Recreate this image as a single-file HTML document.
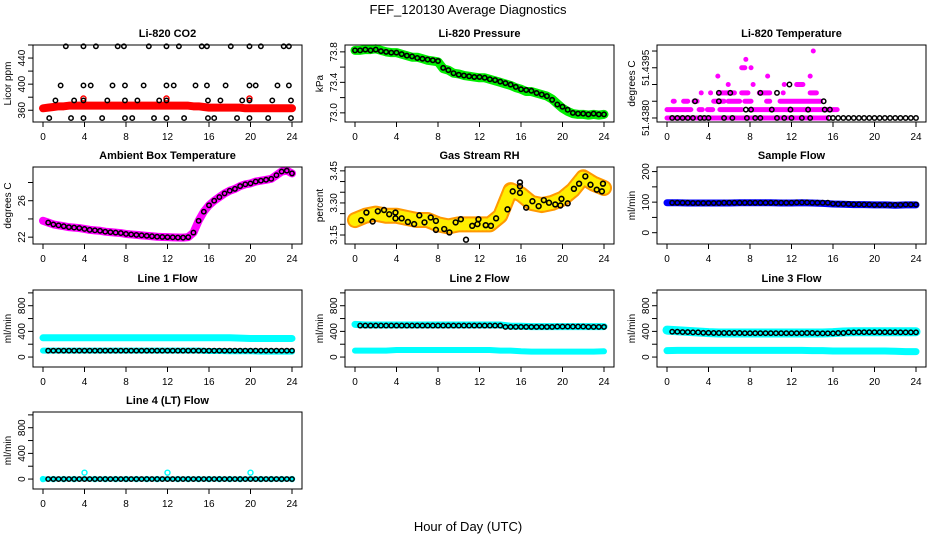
<!DOCTYPE html>
<html><head><meta charset="utf-8"><style>
html,body{margin:0;padding:0;background:#fff;}
svg{display:block;font-family:"Liberation Sans",Arial,sans-serif;}
</style></head><body>
<svg id="fig" width="936" height="540" viewBox="0 0 936 540" xmlns="http://www.w3.org/2000/svg">
<text x="468" y="14" text-anchor="middle" font-size="13">FEF_120130  Average Diagnostics</text>
<text x="468" y="531" text-anchor="middle" font-size="13">Hour of Day (UTC)</text>
</svg>
<script>
// ---------- data ----------
const xTicks = [0,4,8,12,16,20,24];
const halfHours = [0,0.5,1,1.5,2,2.5,3,3.5,4,4.5,5,5.5,6,6.5,7,7.5,8,8.5,9,9.5,10,10.5,11,11.5,12,12.5,13,13.5,14,14.5,15,15.5,16,16.5,17,17.5,18,18.5,19,19.5,20,20.5,21,21.5,22,22.5,23,23.5,24];
const hours = [0,1,2,3,4,5,6,7,8,9,10,11,12,13,14,15,16,17,18,19,20,21,22,23,24];

// CO2
const co2Red = [363,364,365,366,366,367,367,367,367,367,367,367,367,367,367,367,367,367,367,367,367,367,367,367,367,367,367,367,367,366,366,365,364,364,364,364,364,364,364,363,363,363,363,363,363,363,363,363,363];
const co2RedOutHours = [3.9,11.9,19.9];
const co2RedOutVals = [378,378,378];
const co2BlackHours = [2.2,3.9,5.1,7.2,7.8,10.2,11.9,13.1,15.3,15.8,18.1,19.9,21.0,23.2,23.7,
 1.7,3.9,4.6,6.7,7.9,9.7,11.9,12.6,14.7,15.8,17.6,19.9,20.5,22.6,23.7,
 1.2,3.0,3.9,6.2,7.9,9.1,11.2,11.9,15.9,17.1,19.2,19.9,22.1,23.9,
 0.6,2.7,3.9,5.7,7.9,8.6,10.7,11.9,13.6,15.9,16.5,18.7,19.9,21.7,23.9];
const co2BlackVals = [458,458,458,458,458,458,458,458,458,458,458,458,458,458,458,
 398,398,398,398,398,398,398,398,398,398,398,398,398,398,398,
 375,375,375,375,375,375,375,375,375,375,375,375,375,375,
 348,348,348,348,348,348,348,348,348,348,348,348,348,348,348];

// Pressure
const presGreen = [73.82,73.82,73.83,73.83,73.84,73.82,73.80,73.79,73.79,73.77,73.75,73.73,73.73,73.71,73.69,73.68,73.67,73.58,73.56,73.52,73.51,73.49,73.48,73.47,73.46,73.46,73.44,73.42,73.40,73.38,73.36,73.33,73.31,73.28,73.28,73.26,73.24,73.22,73.18,73.12,73.06,73.02,72.99,72.98,72.98,72.97,72.98,72.97,72.98];
const presBlack = [73.82,73.82,73.83,73.82,73.83,73.81,73.80,73.79,73.79,73.77,73.75,73.74,73.72,73.71,73.70,73.69,73.68,73.59,73.56,73.52,73.50,73.49,73.48,73.47,73.47,73.46,73.44,73.43,73.41,73.39,73.37,73.34,73.31,73.30,73.29,73.26,73.24,73.22,73.17,73.11,73.08,73.04,73.00,72.99,72.99,72.98,72.99,72.98,72.98];

// Li-820 temperature (magenta bands: start, end, value)
const tSegStart = [0,0,3.1,3.9,5.1,8.0,0.6,1.6,2.6,4.5,5.9,7.5,9.6,10.9,3.3,4.2,5.1,7.2,8.9,11.2,13.8,5.9,8.3,11.3,12.5,4.9,9.7,13.8,7.2,8.1,7.6,14.1];
const tSegEnd   = [15.4,2.3,3.4,4.4,7.2,16.4,0.7,2.0,2.9,5.5,7.0,8.1,9.9,14.8,3.3,4.2,6.5,7.8,9.9,11.2,14.4,5.9,8.3,11.3,13.1,4.9,9.7,13.8,7.5,8.1,7.6,14.1];
const tSegVal   = [51.4380,51.43825,51.43825,51.43825,51.43825,51.43825,51.4385,51.4385,51.4385,51.4385,51.4385,51.4385,51.4385,51.4385,51.43875,51.43875,51.43875,51.43875,51.43875,51.43875,51.43875,51.4390,51.4390,51.4390,51.4390,51.43925,51.43925,51.43925,51.4395,51.4395,51.43975,51.4400];
const tBlackHours = [0.5,1,1.5,2,2.5,3.2,3.6,4,5.5,6.3,7.7,8.5,9,10.6,11.3,12,13,13.8,15.6,16,16.5,17,17.5,18,18.5,19,19.5,20,20.5,21,21.5,22,22.5,23,23.5,24,7.6,8.1,10.1,11.9,13.6,15.2,15.7,2.7,5.0,15.1,5.0,6.1,9.0,10.6,11.8];
const tBlackVals = [51.4380,51.4380,51.4380,51.4380,51.4380,51.4380,51.4380,51.4380,51.4380,51.4380,51.4380,51.4380,51.4380,51.4380,51.4380,51.4380,51.4380,51.4380,51.4380,51.4380,51.4380,51.4380,51.4380,51.4380,51.4380,51.4380,51.4380,51.4380,51.4380,51.4380,51.4380,51.4380,51.4380,51.4380,51.4380,51.4380,51.43825,51.43825,51.43825,51.43825,51.43825,51.43825,51.43825,51.4385,51.4385,51.4385,51.43875,51.43875,51.43875,51.43875,51.4390];

// Ambient box temperature
const ambVals = [23.8,23.6,23.4,23.3,23.2,23.1,23.05,23.0,22.9,22.8,22.75,22.7,22.6,22.55,22.5,22.45,22.35,22.3,22.25,22.2,22.15,22.1,22.05,22.02,22.0,21.98,21.96,21.95,22.0,22.5,23.8,24.8,25.5,26.0,26.4,26.8,27.1,27.3,27.6,27.8,27.9,28.1,28.2,28.3,28.4,28.8,29.2,29.3,29.0];

// Gas stream RH
const rhBand = [3.22,3.24,3.25,3.24,3.24,3.23,3.22,3.22,3.20,3.19,3.20,3.20,3.20,3.20,3.24,3.36,3.34,3.30,3.29,3.30,3.32,3.36,3.42,3.39,3.37];
const rhBlackHours = [0.6,1.1,1.7,2.2,2.8,3.3,3.9,3.9,4.5,5.1,5.7,6.2,6.7,7.3,7.8,7.8,8.6,9.1,9.7,10.2,10.7,11.3,11.8,11.9,12.6,13.1,13.6,14.7,15.2,15.9,15.9,15.9,16.5,17.1,17.7,18.2,18.7,19.3,19.8,19.9,20.5,21.1,21.6,22.2,22.7,23.3,23.8,23.9];
const rhBlackVals = [3.219,3.255,3.213,3.261,3.267,3.247,3.255,3.228,3.228,3.211,3.201,3.242,3.209,3.232,3.216,3.174,3.178,3.162,3.209,3.224,3.128,3.193,3.201,3.224,3.196,3.193,3.228,3.270,3.354,3.347,3.378,3.396,3.278,3.308,3.285,3.313,3.301,3.293,3.288,3.319,3.298,3.366,3.390,3.424,3.385,3.362,3.354,3.390];

// Sample flow
const sampleBlue = [98,98,97,97,97,97,97,98,98,98,98,97,97,98,97,96,94,93,92,92,91,91,90,91,91];
const sampleBlack = [98,98,98,98,98,97,97,97,97,97,97,98,98,98,98,98,98,98,98,98,98,98,98,98,98,99,99,99,98,98,98,98,95,94,94,94,93,93,92,92,91,91,91,91,91,91,92,92,92];

// Line flows (cyan upper/lower, black)
const l1CyanHi = [300,300,300,300,300,300,300,300,300,300,300,300,300,300,300,300,300,300,300,295,290,290,290,290,290];
const l1CyanLo = [100,100,100,100,100,100,100,100,100,100,100,100,100,100,100,100,95,95,90,90,90,85,85,85,85];
const l1Black = [100,100,100,100,100,100,100,100,100,100,100,100,100,100,100,100,100,100,100,100,100,100,100,100,100];
const l2CyanHi = [510,500,500,500,500,500,500,500,500,500,500,500,500,500,500,480,480,475,475,475,475,475,475,475,475];
const l2CyanLo = [100,100,100,100,110,110,110,110,110,110,110,110,110,110,100,100,90,85,85,85,85,85,85,85,90];
const l2Black = [490,490,490,490,490,490,490,490,490,490,490,490,490,490,490,470,470,470,470,470,475,475,475,470,470];
const l3CyanHi = [420,410,400,390,380,375,375,375,375,375,375,375,375,375,375,375,380,390,395,395,395,395,395,395,395];
const l3CyanLo = [100,105,105,105,105,105,105,105,105,105,105,105,105,105,100,100,95,95,95,95,95,95,90,85,85];
const l3Black = [395,395,390,385,378,375,375,375,372,372,372,372,372,372,375,370,370,375,385,388,388,388,388,385,385];
const l4Cyan = [0,0,0,0,100,0,0,0,0,0,0,0,100,0,0,0,0,0,0,0,100,0,0,0,0];
const l4Black = [0,0,0,0,0,0,0,0,0,0,0,0,0,0,0,0,0,0,0,0,0,0,0,0,0];

// ---------- drawing ----------
const NS = "http://www.w3.org/2000/svg";
const svg = document.getElementById("fig");
const colLeft = [33,345,657], rowTop = [45,167,290,412], PW = 269, PH = 77;
function mk(tag, attrs, parent){ const e=document.createElementNS(NS,tag); for(const k in attrs) e.setAttribute(k,attrs[k]); (parent||svg).appendChild(e); return e; }

function panel(name, ci, ri, title, ytitle, ymin, ymax, yTicks, yLabels){
  const L=colLeft[ci], T=rowTop[ri];
  const g=mk("g",{});
  
  
  const xs=h=>L+10+h*(PW-20)/24;
  const ys=v=>T+PH*(ymax-v)/(ymax-ymin);
  const t=mk("text",{x:L+PW/2,y:T-8,"text-anchor":"middle","font-size":"11","font-weight":"bold"},g);
  t.textContent=title;
  
  
  const yt=mk("text",{x:0,y:0,"text-anchor":"middle","font-size":"10",transform:`translate(${L-22},${T+PH/2}) rotate(-90)`},g);
  yt.textContent=ytitle;
  
  
  const plot=mk("g",{},g);
  
  
  xTicks.forEach(h=>{
    mk("line",{x1:xs(h),x2:xs(h),y1:T+PH,y2:T+PH+5,stroke:"#000","stroke-width":1},g);
    const tx=mk("text",{x:xs(h),y:T+PH+18,"text-anchor":"middle","font-size":"10"},g);
    tx.textContent=String(h);
    
    
  });
  yTicks.forEach((v,i)=>{
    mk("line",{x1:L-5,x2:L,y1:ys(v),y2:ys(v),stroke:"#000","stroke-width":1},g);
    if(yLabels[i]){
      const ty=mk("text",{x:0,y:0,"text-anchor":"middle","font-size":"10",transform:`translate(${L-8},${ys(v)}) rotate(-90)`},g);
      ty.textContent=yLabels[i];
      
      
    }
  });
  const box=mk("rect",{x:L,y:T,width:PW,height:PH,fill:"none",stroke:"#000","stroke-width":1},g);
  
  
  return {xs,ys,plot};
}
function band(p, hs, vs, color, w, name, dash){
  const pts=hs.map((h,i)=>p.xs(h)+","+p.ys(vs[i])).join(" ");
  const pl=mk("polyline",{points:pts,fill:"none",stroke:color,"stroke-width":w,"stroke-linecap":"round","stroke-linejoin":"round"},p.plot);
  if(dash) pl.setAttribute("stroke-dasharray",dash);
  
  
}
function circles(p, hs, vs, color, r, sw, name){
  hs.forEach((h,i)=>{
    const c=mk("circle",{cx:p.xs(h),cy:p.ys(vs[i]),r:r,fill:"none",stroke:color,"stroke-width":sw},p.plot);
    
    
  });
}

// 1 CO2
let p=panel("co2",0,0,"Li-820 CO2","Licor ppm",342,460,[360,380,400,420,440,460],["360","","400","","440",""]);
band(p,halfHours,co2Red,"#ff0000",8,"co2-red-band");
circles(p,co2RedOutHours,co2RedOutVals,"#ff0000",2.5,1.5,"co2-red-point");
circles(p,co2BlackHours,co2BlackVals,"#000",2.2,1.5,"co2-black-point");

// 2 Pressure
p=panel("pressure",1,0,"Li-820 Pressure","kPa",72.88,73.89,[73.0,73.2,73.4,73.6,73.8],["73.0","","73.4","","73.8"]);
band(p,halfHours,presGreen,"#00ee00",9,"pressure-green-band");
circles(p,halfHours,presBlack,"#000",2.2,1.6,"pressure-black-point");

// 3 Li-820 temperature
p=panel("li820-temp",2,0,"Li-820 Temperature","degrees C",51.43788,51.44018,[51.4380,51.4385,51.4390,51.4395,51.4400],["51.4380","","","51.4395",""]);
tSegStart.forEach((s,i)=>{
  const l=mk("line",{x1:p.xs(s),x2:p.xs(tSegEnd[i]),y1:p.ys(tSegVal[i]),y2:p.ys(tSegVal[i]),stroke:"#ff00ff","stroke-width":5,"stroke-linecap":"round"},p.plot);
  
  
});
circles(p,tBlackHours,tBlackVals,"#000",2.2,1.5,"temp-black-point");

// 4 Ambient
p=panel("ambient",0,1,"Ambient Box Temperature","degrees C",21.25,29.7,[22,24,26,28],["22","","26",""]);
band(p,halfHours,ambVals,"#ff00ff",8,"ambient-magenta-band");
circles(p,halfHours.slice(1),ambVals.slice(1),"#000",2.2,1.5,"ambient-black-point");

// 5 Gas stream RH
p=panel("gas-rh",1,1,"Gas Stream RH","percent",3.108,3.468,[3.15,3.20,3.25,3.30,3.35,3.40,3.45],["3.15","","","3.30","","","3.45"]);
band(p,hours,rhBand,"#ff9900",16,"rh-orange-band");
band(p,hours,rhBand,"#ffee00",12,"rh-yellow-texture","1.5 2.5");
circles(p,rhBlackHours,rhBlackVals,"#000",2.4,1.6,"rh-black-point");

// 6 Sample flow
p=panel("sample-flow",2,1,"Sample Flow","ml/min",-37,215,[0,50,100,150,200],["0","","100","","200"]);
band(p,hours,sampleBlue,"#0000ff",7,"sample-blue-band");
circles(p,halfHours.slice(1),sampleBlack.slice(1),"#000",2.2,1.5,"sample-black-point");

const flowTicks=[0,200,400,600,800,1000], flowLabels=["0","","400","","800",""];
// 7 Line 1
p=panel("line1",0,2,"Line 1 Flow","ml/min",-155,1045,flowTicks,flowLabels);
band(p,hours,l1CyanHi,"#00ffff",7,"line1-cyan-upper");
band(p,hours,l1CyanLo,"#00ffff",6,"line1-cyan-lower");
circles(p,halfHours.slice(1),halfHours.slice(1).map(h=>l1Black[Math.round(h)]),"#000",2.2,1.5,"line1-black-point");

// 8 Line 2
p=panel("line2",1,2,"Line 2 Flow","ml/min",-155,1045,flowTicks,flowLabels);
band(p,hours,l2CyanHi,"#00ffff",7,"line2-cyan-upper");
band(p,hours,l2CyanLo,"#00ffff",6,"line2-cyan-lower");
circles(p,halfHours.slice(1),halfHours.slice(1).map(h=>l2Black[Math.round(h)]),"#000",2.2,1.5,"line2-black-point");

// 9 Line 3
p=panel("line3",2,2,"Line 3 Flow","ml/min",-155,1045,flowTicks,flowLabels);
band(p,hours,l3CyanHi,"#00ffff",9,"line3-cyan-upper");
band(p,hours,l3CyanLo,"#00ffff",7,"line3-cyan-lower");
circles(p,halfHours.slice(1),halfHours.slice(1).map(h=>l3Black[Math.round(h)]),"#000",2.2,1.5,"line3-black-point");

// 10 Line 4
p=panel("line4",0,3,"Line 4 (LT) Flow","ml/min",-155,1045,flowTicks,flowLabels);
band(p,hours,l4Black,"#00ffff",5,"line4-cyan-band");
circles(p,hours,l4Cyan,"#00ffff",2.5,1.4,"line4-cyan-point");
circles(p,halfHours.slice(1),halfHours.slice(1).map(h=>l4Black[Math.round(h)]),"#000",2.2,1.5,"line4-black-point");
</script>
</body></html>
